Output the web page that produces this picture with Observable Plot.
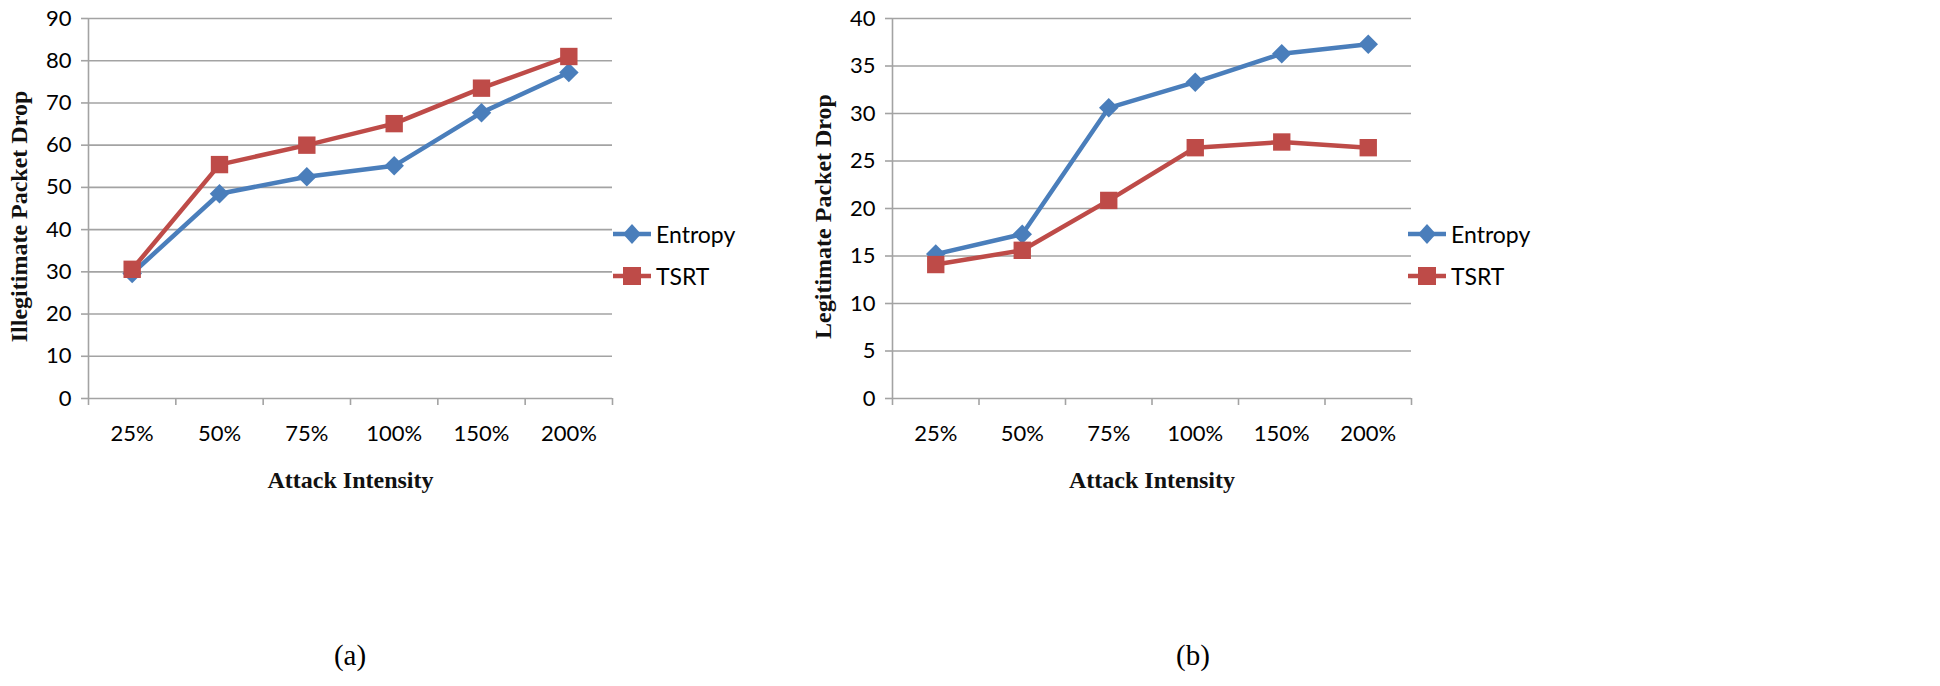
<!DOCTYPE html>
<html><head><meta charset="utf-8">
<script src="https://cdn.jsdelivr.net/npm/d3@7"></script>
<script src="https://cdn.jsdelivr.net/npm/@observablehq/plot@0.6"></script>
<style>
body{margin:0;background:#fff;}
#root{position:relative;width:1940px;height:686px;overflow:hidden;background:#fff;}
.panel{position:absolute;top:0;}
.legend{position:absolute;font-family:Lato,sans-serif;font-size:23px;color:#000;}
.legend .row{display:flex;align-items:center;height:42px;}
.legend svg{margin-right:5px;}
.caption{position:absolute;font-family:"Liberation Serif",serif;font-size:29px;color:#000;transform:translate(-50%,-50%);}
</style></head><body><div id="root"></div>
<script>
const categories = ["25%","50%","75%","100%","150%","200%"];
const series = ["Entropy","TSRT"];
const illegitEntropy = [29.6,48.5,52.5,55.1,67.7,77.2];
const illegitTSRT = [30.6,55.4,60.0,65.1,73.5,81.0];
const legitEntropy = [15.2,17.3,30.6,33.3,36.3,37.3];
const legitTSRT = [14.1,15.6,20.85,26.4,27.0,26.4];
const yTicksA = [0,10,20,30,40,50,60,70,80,90];
const yTicksB = [0,5,10,15,20,25,30,35,40];
const xTitle = "Attack Intensity";
const colors = ["#4A7EBB","#BE4B48"];
const symbols = ["diamond2","square"];
const gridColor = "#a3a3a3";
const titleFont = {fontFamily: "Liberation Serif, serif", fontWeight: "bold", fontSize: 24, fill: "#111"};

function panel(values, yTicks, yLabel, marginRight) {
  const data = [];
  series.forEach((s, si) => values[si].forEach((v, i) => data.push({i: i + 0.5, cat: categories[i], s, v})));
  const centers = categories.map((c, i) => i + 0.5);
  return Plot.plot({
    width: 640, height: 520,
    marginLeft: 88, marginRight, marginTop: 18, marginBottom: 122,
    style: {fontFamily: "Lato, sans-serif", fontSize: "22px", color: "#000", background: "transparent", overflow: "visible"},
    x: {domain: [0, categories.length]},
    y: {domain: [yTicks[0], yTicks[yTicks.length - 1]]},
    color: {domain: series, range: colors},
    symbol: {domain: series, range: symbols},
    marks: [
      Plot.gridY(yTicks, {stroke: gridColor, strokeOpacity: 1, strokeWidth: 1.6}),
      Plot.ruleX([0], {stroke: gridColor, strokeWidth: 1.6}),
      Plot.axisY(yTicks, {tickSize: 7, tickPadding: 10, stroke: gridColor, strokeWidth: 1.6, label: null, fontSize: 22}),
      Plot.axisX(d3.range(0, categories.length + 1), {tickSize: 7, stroke: gridColor, strokeWidth: 1.6, tickFormat: () => "", label: null}),
      Plot.axisX(centers, {tickSize: 0, tickPadding: 27, tickFormat: d => categories[Math.round(d - 0.5)], label: null, fontSize: 22}),
      Plot.text([xTitle], {text: d => d, frameAnchor: "bottom", textAnchor: "middle", lineAnchor: "middle", dy: 82, ...titleFont}),
      Plot.text([yLabel], {text: d => d, frameAnchor: "left", textAnchor: "middle", lineAnchor: "middle", dx: -69, dy: 8, rotate: -90, ...titleFont}),
      Plot.line(data, {x: "i", y: "v", z: "s", stroke: "s", strokeWidth: 4.5}),
      Plot.dot(data, {filter: d => d.s === "Entropy", x: "i", y: "v", symbol: "s", fill: "s", r: 8.8}),
      Plot.dot(data, {filter: d => d.s === "TSRT", x: "i", y: "v", symbol: "s", fill: "s", r: 9.8})
    ]
  });
}

function legend(left, top) {
  const div = document.createElement("div");
  div.className = "legend";
  div.style.left = left + "px";
  div.style.top = top + "px";
  series.forEach((s, si) => {
    const row = document.createElement("div");
    row.className = "row";
    const shape = si === 0
      ? `<path d="M19,10 L28,20 L19,30 L10,20 Z" fill="${colors[si]}"/>`
      : `<rect x="10" y="11" width="18" height="18" fill="${colors[si]}"/>`;
    row.innerHTML = `<svg width="38" height="40"><line x1="0" y1="20" x2="38" y2="20" stroke="${colors[si]}" stroke-width="4.5"/>${shape}</svg><span>${s}</span>`;
    div.appendChild(row);
  });
  return div;
}

function caption(text, x, y) {
  const d = document.createElement("div");
  d.className = "caption";
  d.style.left = x + "px";
  d.style.top = y + "px";
  d.textContent = text;
  return d;
}

const root = document.getElementById("root");
const pa = panel([illegitEntropy, illegitTSRT], yTicksA, "Illegitimate Packet Drop", 28);
pa.classList.add("panel"); pa.style.left = "0px";
root.appendChild(pa);
const pb = panel([legitEntropy, legitTSRT], yTicksB, "Legitimate Packet Drop", 33);
pb.classList.add("panel"); pb.style.left = "804px";
root.appendChild(pb);
root.appendChild(legend(613, 213));
root.appendChild(legend(1408, 213));
root.appendChild(caption("(a)", 350, 655));
root.appendChild(caption("(b)", 1193, 655));
</script></body></html>
